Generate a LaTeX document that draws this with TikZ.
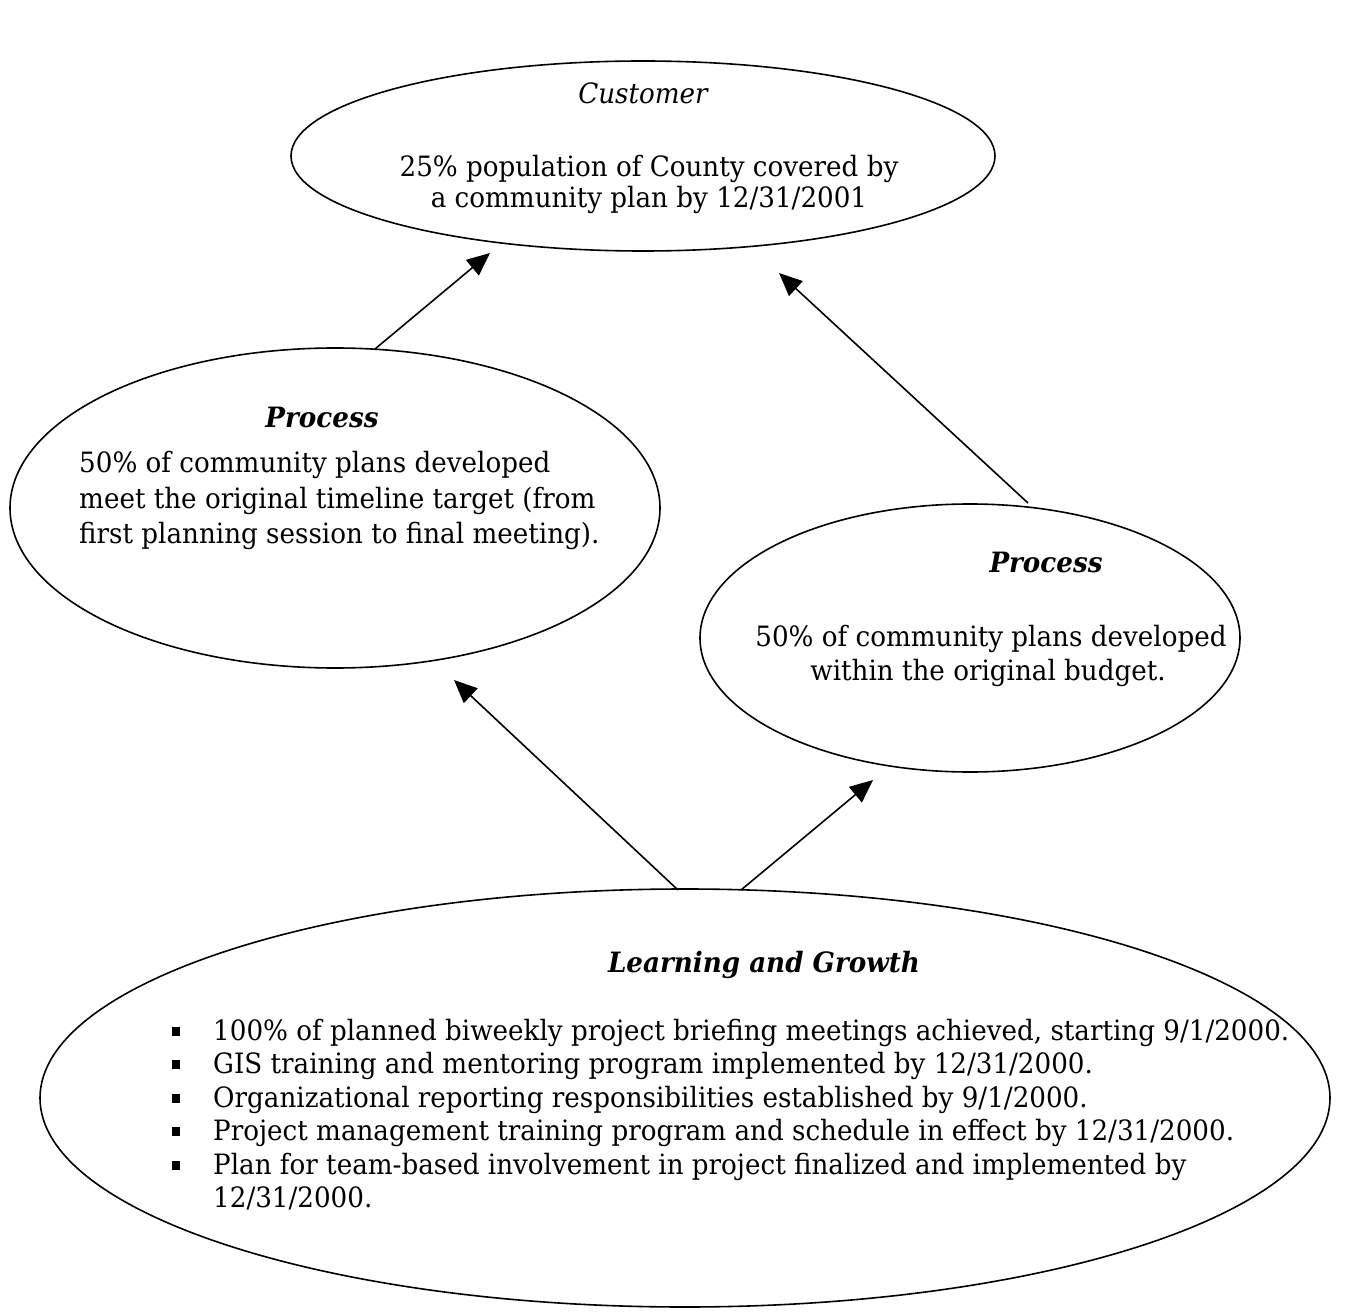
\documentclass[tikz,border=0pt]{standalone}
\usepackage{fontspec}
\setmainfont{DejaVu Serif}[FakeStretch=0.935]
\usetikzlibrary{shapes.geometric,arrows.meta}
\newcommand\bodyfont{\fontsize{28}{34}\selectfont}
\tikzset{
  oval/.style={draw, ellipse, line width=1.6pt, inner sep=0pt},
  txt/.style={font=\bodyfont, inner sep=0pt, anchor=base west},
  ctxt/.style={font=\bodyfont, inner sep=0pt, anchor=base},
  head/.style={font=\bodyfont\bfseries\itshape, inner sep=0pt, anchor=base},
  conn/.style={line width=1.6pt, -{Triangle[length=23pt,width=20pt]}},
  bul/.style={fill=black, inner sep=0pt, minimum width=8pt, minimum height=9pt}
}
\begin{document}
\begin{tikzpicture}[x=1pt,y=-1pt]
\useasboundingbox (0,0) rectangle (1366,1313);
% ellipses
\node[oval, minimum width=704pt, minimum height=190pt] (cu) at (643,156) {};
\node[oval, minimum width=650pt, minimum height=320pt] (lp) at (335,508) {};
\node[oval, minimum width=540pt, minimum height=268pt] (rp) at (970,638) {};
\node[oval, minimum width=1290pt, minimum height=418pt] (lg) at (685,1098) {};
% customer
\node[font=\bodyfont\itshape, inner sep=0pt, anchor=base] (cut) at (643,104) {Customer};
\node[ctxt] (cu1) at (649,177) {25\% population of County covered by};
\node[ctxt] (cu2) at (649,208) {a community plan by 12/31/2001};
% left process
\node[head] (lpt) at (322,428) {Process};
\node[txt] (lp1) at (79,473) {50\% of community plans developed};
\node[txt] (lp2) at (79,508) {meet the original timeline target (from};
\node[txt] (lp3) at (79,543) {first planning session to final meeting).};
% right process
\node[head] (rpt) at (1046,572) {Process};
\node[ctxt] (rp1) at (991,646) {50\% of community plans developed};
\node[ctxt] (rp2) at (988,680) {within the original budget.};
% learning and growth
\node[head] (lgt) at (764,972) {Learning and Growth};
\node[txt] (l1) at (213,1040) {100\% of planned biweekly project briefing meetings achieved, starting 9/1/2000.};
\node[txt] (l2) at (213,1073) {GIS training and mentoring program implemented by 12/31/2000.};
\node[txt] (l3) at (213,1107) {Organizational reporting responsibilities established by 9/1/2000.};
\node[txt] (l4) at (213,1140) {Project management training program and schedule in effect by 12/31/2000.};
\node[txt] (l5) at (213,1174) {Plan for team-based involvement in project finalized and implemented by};
\node[txt] (l6) at (213,1207) {12/31/2000.};
\node[bul] (b1) at (176,1031) {};
\node[bul] (b2) at (176,1064) {};
\node[bul] (b3) at (176,1098) {};
\node[bul] (b4) at (176,1131) {};
\node[bul] (b5) at (176,1165) {};
% connector end points
\coordinate (a1s) at (375,349);
\coordinate (a1e) at (490,253);
\coordinate (a2s) at (1028,503);
\coordinate (a2e) at (779,273);
\coordinate (a3s) at (678,890);
\coordinate (a3e) at (454,680);
\coordinate (a4s) at (741,890);
\coordinate (a4e) at (873,780);
\draw[conn] (a1s) -- (a1e);
\draw[conn] (a2s) -- (a2e);
\draw[conn] (a3s) -- (a3e);
\draw[conn] (a4s) -- (a4e);
\end{tikzpicture}
\end{document}
